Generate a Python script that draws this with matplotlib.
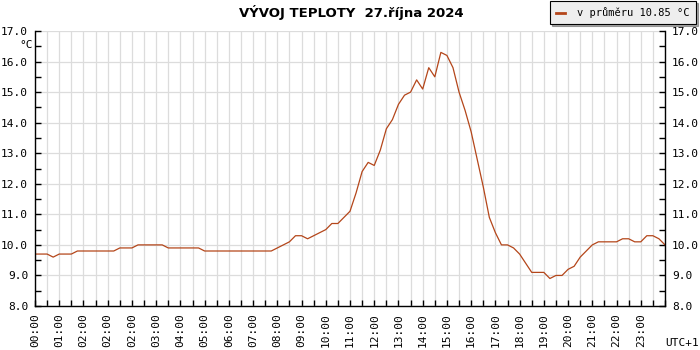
import numpy as np
import matplotlib
matplotlib.use("Agg")
import matplotlib.pyplot as plt
from matplotlib.ticker import MultipleLocator

# 15-minute readings, 27 Oct 2024 (25-hour day, DST change)
temps = [
    9.7, 9.7, 9.7, 9.6, 9.7, 9.7, 9.7, 9.8, 9.8, 9.8,
    9.8, 9.8, 9.8, 9.8, 9.9, 9.9, 9.9, 10.0, 10.0, 10.0,
    10.0, 10.0, 9.9, 9.9, 9.9, 9.9, 9.9, 9.9, 9.8, 9.8,
    9.8, 9.8, 9.8, 9.8, 9.8, 9.8, 9.8, 9.8, 9.8, 9.8,
    9.9, 10.0, 10.1, 10.3, 10.3, 10.2, 10.3, 10.4, 10.5, 10.7,
    10.7, 10.9, 11.1, 11.7, 12.4, 12.7, 12.6, 13.1, 13.8, 14.1,
    14.6, 14.9, 15.0, 15.4, 15.1, 15.8, 15.5, 16.3, 16.2, 15.8,
    15.0, 14.4, 13.7, 12.8, 11.9, 10.9, 10.4, 10.0, 10.0, 9.9,
    9.7, 9.4, 9.1, 9.1, 9.1, 8.9, 9.0, 9.0, 9.2, 9.3,
    9.6, 9.8, 10.0, 10.1, 10.1, 10.1, 10.1, 10.2, 10.2, 10.1,
    10.1, 10.3, 10.3, 10.2, 10.0,
]
hour_labels = ["00:00", "01:00", "02:00", "02:00", "02:00", "03:00", "04:00",
               "05:00", "06:00", "07:00", "08:00", "09:00", "10:00", "11:00",
               "12:00", "13:00", "14:00", "15:00", "16:00", "17:00", "18:00",
               "19:00", "20:00", "21:00", "22:00", "23:00"]
y_ticks = [8.0, 9.0, 10.0, 11.0, 12.0, 13.0, 14.0, 15.0, 16.0, 17.0]
title = "VÝVOJ TEPLOTY  27.října 2024"
legend_text = "v průměru 10.85 °C"

line_color = "#b4461a"
mono = "DejaVu Sans Mono"

x = np.arange(len(temps)) * 0.25

fig = plt.figure(figsize=(7, 3.5), dpi=100)
ax = fig.add_axes([35 / 700, 44 / 350, 630 / 700, 275 / 350])

ax.plot(x, temps, color=line_color, lw=0.9, label=legend_text)

ax.set_xlim(0, 26)
ax.set_ylim(8, 17)
ax.set_xticks(range(len(hour_labels)))
ax.set_xticklabels(hour_labels, rotation=90, family=mono, fontsize=8)
ax.xaxis.set_minor_locator(MultipleLocator(0.5))
ax.set_yticks(y_ticks)
ax.set_yticklabels([f"{v:.1f}" for v in y_ticks], family=mono, fontsize=8)
ax.yaxis.set_minor_locator(MultipleLocator(0.5))

ax.grid(which="major", axis="y", color="#dcdcdc", lw=0.9)
ax.grid(which="both", axis="x", color="#dcdcdc", lw=0.9)
ax.set_axisbelow(True)

ax.tick_params(which="both", direction="in", length=4, width=1, color="black",
               right=True, labelright=True, top=False)
ax.tick_params(axis="x", pad=5)
ax.tick_params(axis="y", pad=5)

for s in ["left", "right", "bottom"]:
    ax.spines[s].set_linewidth(1.0)
ax.spines["top"].set_visible(False)

fig.text(351 / 700, 1 - 12 / 350, title, ha="center", va="center",
         fontsize=9.5, fontweight="bold")
fig.text(26 / 700, 1 - 45 / 350, "°C", ha="center", va="center",
         family=mono, fontsize=8)
fig.text(682 / 700, 1 - 343 / 350, "UTC+1", ha="center", va="center",
         family=mono, fontsize=8)

leg = fig.legend(loc="upper right", bbox_to_anchor=(696 / 700, 1 - 1 / 350),
                 prop={"family": mono, "size": 7.5}, fancybox=False,
                 shadow={"ox": 1.5, "oy": -1.5, "color": "#555555"},
                 framealpha=1, handlelength=0.8,
                 borderpad=0.6, handletextpad=1.2, borderaxespad=0)
leg.get_frame().set_facecolor("#eeeeee")
leg.get_frame().set_edgecolor("black")
leg.get_frame().set_linewidth(0.8)
for h in leg.get_lines():
    h.set_linewidth(2)

fig.savefig("out.png", dpi=100)
